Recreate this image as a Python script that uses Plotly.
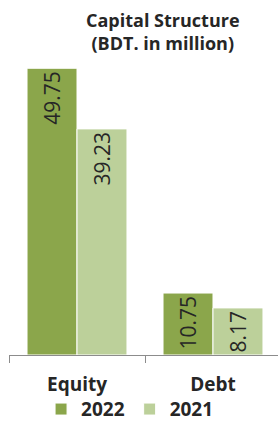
import plotly.graph_objects as go

categories = ["Equity", "Debt"]
series_names = ["2022", "2021"]
values_2022 = [49.75, 10.75]
values_2021 = [39.23, 8.17]
labels_2022 = ["49.75", "10.75"]
labels_2021 = ["39.23", "8.17"]

dark = "#8BA64B"
light = "#BCD09A"
txt = "#262626"
font_family = "Open Sans, sans-serif"

fig = go.Figure()
for name, vals, labs, col in [(series_names[0], values_2022, labels_2022, dark),
                              (series_names[1], values_2021, labels_2021, light)]:
    fig.add_trace(go.Bar(
        x=categories, y=vals, name="<b>" + name + "</b>", text=labs,
        textposition="inside", insidetextanchor="end", textangle=-90,
        textfont=dict(size=21, color=txt, family=font_family),
        constraintext="none",
        marker=dict(color=col, line=dict(color="white", width=1)),
        hoverinfo="skip",
    ))

fig.update_layout(
    width=278, height=421,
    margin=dict(l=9, r=0, t=38, b=66, autoexpand=False),
    paper_bgcolor="white", plot_bgcolor="white",
    barmode="group", bargap=0.265, bargroupgap=0,
    font=dict(family=font_family, color=txt),
    showlegend=True,
    legend=dict(orientation="h", x=0.45, xanchor="center",
                yref="container", y=0.028, yanchor="middle",
                bgcolor="rgba(0,0,0,0)",
                font=dict(size=19, color=txt, family=font_family),
                itemwidth=30, traceorder="normal"),
    xaxis=dict(range=[-0.5, 1.478], showline=True, linecolor="#8C8C8C", linewidth=1,
               ticks="outside", tickson="boundaries", ticklen=7, tickcolor="#8C8C8C",
               tickfont=dict(size=19, color=txt, family=font_family),
               ticklabelstandoff=12, automargin=False,
               showgrid=False, fixedrange=True,
               tickvals=categories, ticktext=["<b>" + c + "</b>" for c in categories]),
    yaxis=dict(range=[0, 55], visible=False, showgrid=False, fixedrange=True),
)

fig.add_annotation(
    text="<b>Capital Structure<br>(BDT. in million)</b>",
    xref="paper", yref="paper", x=0.574, y=1.1, xanchor="center", yanchor="top",
    showarrow=False, align="center",
    font=dict(size=18, color=txt, family=font_family),
)

fig.write_html("out.html", config={"displayModeBar": False},
               post_script="document.body.style.margin='0';document.body.style.padding='0';")
